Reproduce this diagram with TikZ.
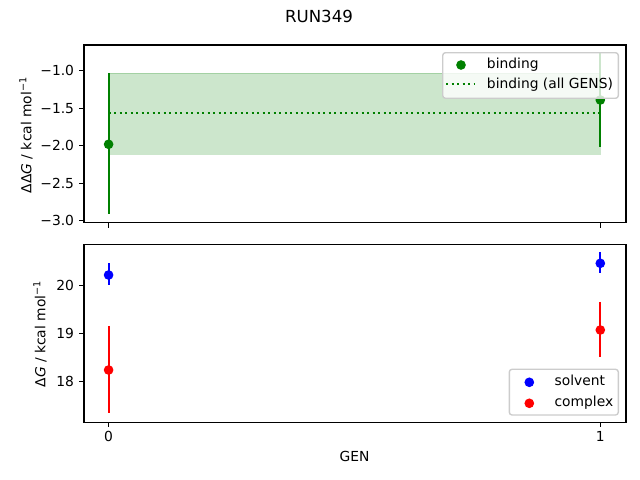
\documentclass[tikz,border=0pt]{standalone}
\usepackage{fontspec}
\setmainfont{DejaVu Sans}
\definecolor{mplgreen}{RGB}{0,128,0}
\definecolor{mplblue}{RGB}{0,0,255}
\definecolor{mplred}{RGB}{255,0,0}
\definecolor{legedge}{RGB}{204,204,204}
\tikzset{
  spine/.style={draw=black, line width=0.8pt},
  tickmark/.style={draw=black, line width=0.8pt},
  ticklbl/.style={inner sep=0pt, font=\fontsize{10}{12}\selectfont},
  axlbl/.style={inner sep=0pt, font=\fontsize{10}{12}\selectfont},
  ebar/.style={line width=1.5pt},
  dot/.style={circle, inner sep=0pt, minimum size=7pt, fill=#1},
  legbox/.style={draw=legedge, line width=1pt, fill=white, fill opacity=0.8, rounded corners=2pt},
  legtxt/.style={inner sep=0pt, anchor=base west, font=\fontsize{10}{12}\selectfont}
}
\begin{document}
\begin{tikzpicture}[x=0.72bp, y=-0.72bp]
\useasboundingbox (0,0) rectangle (640,480);
% title
\node[inner sep=0pt, anchor=base, font=\fontsize{12}{14}\selectfont] (title) at (319,22.7) {RUN349};

% ===== top axes =====
\fill[mplgreen, fill opacity=0.2, draw=mplgreen, draw opacity=0.2, line width=1pt] (108.6,73.3) rectangle (600.3,154.3);
\draw[mplgreen, line width=1.5pt, dash pattern=on 1.5pt off 2.475pt] (108.6,113.3) -- (600.3,113.3);
\coordinate (b0t) at (108.6,73.3);
\coordinate (b0b) at (108.6,214.3);
\coordinate (b1t) at (600.3,52.7);
\coordinate (b1b) at (600.3,147.3);
\draw[ebar, mplgreen] (b0t) -- (b0b);
\draw[ebar, mplgreen] (b1t) -- (b1b);
\node[dot=mplgreen] (g0) at (108.6,144.3) {};
\node[dot=mplgreen] (g1) at (600.3,100) {};
\draw[spine] (84,45) rectangle (626,222.7);
\foreach \yy/\lab in {70.7/{−1.0},108.2/{−1.5},145.7/{−2.0},183.2/{−2.5},220.7/{−3.0}}{
  \draw[tickmark] (84,\yy) -- (79.1,\yy);
  \node[ticklbl, anchor=east] at (74.3,\yy) {\lab};
}
\foreach \xx in {108.6,600.3}{
  \draw[tickmark] (\xx,222.7) -- (\xx,227.6);
}
\node[axlbl, rotate=90, anchor=base] (ylt) at (31.3,135) {ΔΔ\textit{G} / kcal mol\textsuperscript{−1}};
% legend top
\draw[legbox] (442.7,52.7) rectangle (618.3,98.3);
\node[dot=mplgreen] (lg1) at (461,65) {};
\draw[mplgreen, line width=1.5pt, dash pattern=on 1.5pt off 2.475pt] (446,84) -- (475,84);
\node[legtxt] (lt1) at (486.7,69) {binding};
\node[legtxt] (lt2) at (486.7,88.6) {binding (all GENS)};

% ===== bottom axes =====
\coordinate (s0t) at (108.6,263.3);
\coordinate (s0b) at (108.6,285.3);
\coordinate (s1t) at (600.3,252);
\coordinate (s1b) at (600.3,273.3);
\coordinate (c0t) at (108.6,326);
\coordinate (c0b) at (108.6,413.3);
\coordinate (c1t) at (600.3,302);
\coordinate (c1b) at (600.3,357.3);
\draw[ebar, mplblue] (s0t) -- (s0b);
\draw[ebar, mplblue] (s1t) -- (s1b);
\draw[ebar, mplred] (c0t) -- (c0b);
\draw[ebar, mplred] (c1t) -- (c1b);
\node[dot=mplblue] (s0) at (108.6,275) {};
\node[dot=mplblue] (s1) at (600.3,263.3) {};
\node[dot=mplred] (c0) at (108.6,370) {};
\node[dot=mplred] (c1) at (600.3,330) {};
\draw[spine] (84,244.3) rectangle (626,422.3);
\foreach \yy/\lab in {285.3/20,333.3/19,381.3/18}{
  \draw[tickmark] (84,\yy) -- (79.1,\yy);
  \node[ticklbl, anchor=east] at (74.3,\yy) {\lab};
}
\foreach \xx/\lab in {108.6/0,600.3/1}{
  \draw[tickmark] (\xx,422.3) -- (\xx,427.2);
  \node[ticklbl, anchor=base] at (\xx,441.7) {\lab};
}
\node[axlbl, rotate=90, anchor=base] (ylb) at (45.3,334) {Δ\textit{G} / kcal mol\textsuperscript{−1}};
\node[axlbl, anchor=base] (xl) at (354.5,461.7) {GEN};
% legend bottom
\draw[legbox] (509.3,369.3) rectangle (618.3,415);
\node[dot=mplblue] (ls) at (529.3,382.3) {};
\node[dot=mplred] (lc) at (529.3,403.3) {};
\node[legtxt] (lt3) at (554.3,385.7) {solvent};
\node[legtxt] (lt4) at (554.3,406.7) {complex};
\end{tikzpicture}
\end{document}
